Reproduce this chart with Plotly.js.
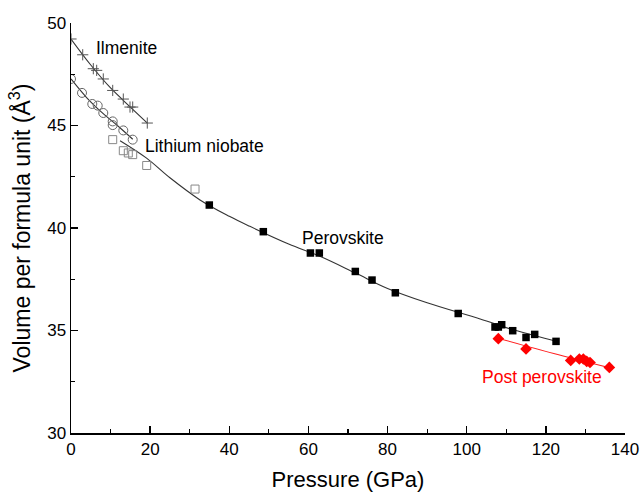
<!DOCTYPE html>
<html>
<head>
<meta charset="utf-8">
<script src="https://cdn.plot.ly/plotly-3.0.1.min.js"></script>
<style>html,body{margin:0;padding:0;background:#fff;}#chart{width:641px;height:492px;}</style>
</head>
<body>
<div id="chart"></div>
<script>
// Ilmenite data
const ilmP = [0, 2.96, 5.64, 6.49, 8.16, 10.54, 13.22, 14.91, 15.59, 19.28];
const ilmV = [49.22, 48.45, 47.77, 47.69, 47.27, 46.71, 46.29, 45.90, 45.90, 45.12];
const ilmFitP = [0, 5, 10, 15, 19.3];
const ilmFitV = [49.22, 47.95, 46.83, 45.90, 45.12];

// Lithium niobate data
const lnP = [0, 2.78, 5.38, 6.75, 8.16, 10.54, 10.54, 13.22, 15.59];
const lnV = [47.27, 46.59, 46.05, 45.97, 45.61, 45.20, 45.02, 44.76, 44.31];
const lnFitP = [0, 4, 8, 12, 15.6];
const lnFitV = [47.27, 46.35, 45.60, 44.95, 44.33];

// Perovskite (open squares, low pressure)
const pvOpenP = [10.54, 13.22, 14.48, 15.59, 19.13, 31.34];
const pvOpenV = [44.31, 43.77, 43.66, 43.58, 43.05, 41.90];

// Perovskite (filled squares)
const pvP = [34.95, 48.6, 60.5, 62.75, 71.85, 76.07, 81.96, 97.85, 107.15, 107.99, 108.84, 111.62, 114.99, 117.18, 122.57];
const pvV = [41.12, 39.82, 38.78, 38.78, 37.88, 37.46, 36.84, 35.83, 35.17, 35.17, 35.28, 34.99, 34.66, 34.81, 34.47];
const pvFitP = [12.4, 19.1, 25, 32.6, 40, 45.2, 55, 62.9, 71.9, 80, 90, 103.4, 112, 123.3];
const pvFitV = [44.26, 43.41, 42.45, 41.37, 40.57, 40.08, 39.22, 38.62, 37.80, 37.05, 36.35, 35.56, 35.02, 34.44];

// Post perovskite
const ppvP = [107.99, 114.99, 126.28, 128.46, 129.47, 130.33, 131.16, 136.04];
const ppvV = [34.60, 34.10, 33.54, 33.61, 33.61, 33.49, 33.44, 33.20];
const ppvFitP = [108, 122, 136];
const ppvFitV = [34.62, 33.88, 33.19];

// Axis settings
const xRange = [0, 140];
const yRange = [30, 50];

// Labels
const labels = [
  {text: 'Ilmenite', P: 5.8, V: 48.8, color: '#000'},
  {text: 'Lithium niobate', P: 18.2, V: 44.01, color: '#000'},
  {text: 'Perovskite', P: 57.9, V: 39.53, color: '#000'},
  {text: 'Post perovskite', P: 103.4, V: 32.75, color: '#ff0000'}
];

const FONT = 'Liberation Sans, Arial, sans-serif';
const lineStyle = {color: '#333', width: 1.1, shape: 'spline'};
const traces = [
  {x: ilmFitP, y: ilmFitV, mode: 'lines', line: lineStyle, hoverinfo: 'skip'},
  {x: lnFitP, y: lnFitV, mode: 'lines', line: lineStyle, hoverinfo: 'skip'},
  {x: pvFitP, y: pvFitV, mode: 'lines', line: lineStyle, hoverinfo: 'skip'},
  {x: ppvFitP, y: ppvFitV, mode: 'lines', line: {color: '#ff2020', width: 1.1, shape: 'spline'}, hoverinfo: 'skip'},
  {x: ilmP, y: ilmV, mode: 'markers', marker: {symbol: 'cross-thin-open', size: 8, color: '#555', line: {color: '#555', width: 1}}},
  {x: lnP, y: lnV, mode: 'markers', marker: {symbol: 'circle-open', size: 9, color: '#666', line: {color: '#666', width: 1}}},
  {x: pvOpenP, y: pvOpenV, mode: 'markers', marker: {symbol: 'square-open', size: 8, color: '#888', line: {color: '#888', width: 1}}},
  {x: pvP, y: pvV, mode: 'markers', marker: {symbol: 'square', size: 7.5, color: '#000'}},
  {x: ppvP, y: ppvV, mode: 'markers', marker: {symbol: 'diamond', size: 9, color: '#ff0000'}}
];

const axisCommon = {
  showgrid: false, zeroline: false, showline: true, linecolor: '#000', linewidth: 1.5,
  ticks: 'inside', ticklen: 7, tickwidth: 1.5, tickcolor: '#000',
  tickfont: {family: FONT, size: 17, color: '#000'}
};
const xMinor = {dtick: 10, ticks: 'inside', ticklen: 4, tickwidth: 1.2, tickcolor: '#000'};
const yMinor = {dtick: 2.5, ticks: 'inside', ticklen: 4, tickwidth: 1.2, tickcolor: '#000'};

const layout = {
  width: 641, height: 492,
  margin: {l: 71, r: 16, t: 23, b: 59},
  paper_bgcolor: '#fff', plot_bgcolor: '#fff',
  showlegend: false,
  font: {family: FONT, color: '#000'},
  xaxis: Object.assign({}, axisCommon, {
    range: xRange, dtick: 20, tick0: 0, minor: xMinor,
    title: {text: 'Pressure (GPa)', font: {size: 22, color: '#000'}, standoff: 16}
  }),
  yaxis: Object.assign({}, axisCommon, {
    range: yRange, dtick: 5, tick0: 30, minor: yMinor,
    title: {text: 'Volume per formula unit (Å<sup>3</sup>)', font: {size: 23, color: '#000'}, standoff: 10}
  }),
  xaxis2: Object.assign({}, axisCommon, {
    overlaying: 'x', side: 'top', anchor: 'y', range: xRange, dtick: 20, tick0: 0,
    minor: xMinor, showticklabels: false
  }),
  yaxis2: Object.assign({}, axisCommon, {
    overlaying: 'y', side: 'right', anchor: 'x', range: yRange, dtick: 5, tick0: 30,
    minor: yMinor, showticklabels: false
  }),
  annotations: labels.map(l => ({
    x: l.P, y: l.V, xref: 'x', yref: 'y', text: l.text, showarrow: false,
    xanchor: 'left', yanchor: 'middle',
    font: {family: FONT, size: 17.5, color: l.color}
  }))
};

Plotly.newPlot('chart', traces, layout, {displayModeBar: false, staticPlot: true});
</script>
</body>
</html>
